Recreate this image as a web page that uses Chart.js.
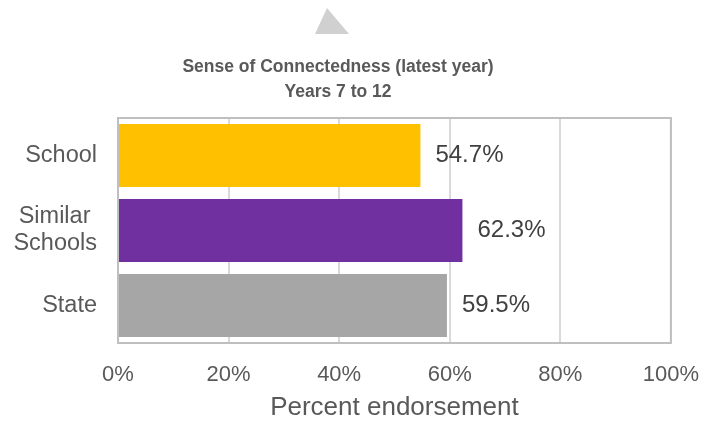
<!DOCTYPE html>
<html>
<head>
<meta charset="utf-8">
<script src="https://cdn.jsdelivr.net/npm/chart.js@4/dist/chart.umd.min.js"></script>
<style>
  html, body { margin: 0; padding: 0; background: #fff; }
  #wrap { width: 718px; height: 423px; }
</style>
</head>
<body>
<div id="wrap"><canvas id="grafico" width="718" height="423"></canvas></div>
<script>
// dados do grafico
const categorias = [['School'], ['Similar ', 'Schools'], ['State']];
const valores = [54.7, 62.3, 59.5];
const cores = ['#FFC000', '#7030A0', '#A6A6A6'];
const ticksX = [0, 20, 40, 60, 80, 100];
const titulo = ['Sense of Connectedness (latest year)', 'Years 7 to 12'];
const tituloEixo = 'Percent endorsement';

const fonte = "'Liberation Sans', Arial, sans-serif";

// borda da area do grafico + triangulo decorativo
const moldura = {
    id: 'moldura',
    beforeDraw(chart) {
        const ctx = chart.ctx;
        ctx.save();
        ctx.fillStyle = '#D0D0D0';
        ctx.beginPath();
        ctx.moveTo(327, 8);
        ctx.lineTo(349, 34);
        ctx.lineTo(315, 34);
        ctx.closePath();
        ctx.fill();
        ctx.restore();
    },
    afterDatasetsDraw(chart) {
        const a = chart.chartArea;
        const ctx = chart.ctx;
        ctx.save();
        ctx.strokeStyle = '#BFBFBF';
        ctx.lineWidth = 2;
        ctx.strokeRect(a.left, a.top, a.right - a.left, a.bottom - a.top);
        ctx.restore();
    }
};

// rotulos de valor ao lado das barras
const rotulos = {
    id: 'rotulos',
    afterDatasetsDraw(chart) {
        const ctx = chart.ctx;
        const meta = chart.getDatasetMeta(0);
        ctx.save();
        ctx.font = '24px ' + fonte;
        ctx.fillStyle = '#404040';
        ctx.textAlign = 'left';
        ctx.textBaseline = 'middle';
        meta.data.forEach((bar, i) => {
            ctx.fillText(valores[i].toFixed(1) + '%', bar.x + 15, bar.y);
        });
        ctx.restore();
    }
};

new Chart(document.getElementById('grafico'), {
    type: 'bar',
    data: {
        labels: categorias,
        datasets: [{
            data: valores,
            backgroundColor: cores,
            barPercentage: 0.84,
            categoryPercentage: 1
        }]
    },
    options: {
        indexAxis: 'y',
        responsive: false,
        animation: false,
        layout: { padding: { top: 0, right: 42, bottom: 0, left: 0 } },
        plugins: {
            legend: { display: false },
            tooltip: { enabled: false },
            title: {
                display: true,
                text: titulo,
                color: '#595959',
                font: { family: fonte, size: 17.5, weight: 'bold', lineHeight: 1.4 },
                padding: { top: 55, bottom: 14 }
            }
        },
        scales: {
            x: {
                min: 0,
                max: 100,
                afterBuildTicks(scale) {
                    scale.ticks = ticksX.map(v => ({ value: v }));
                },
                afterFit(scale) { scale.height = 80; },
                grid: { color: '#D9D9D9', lineWidth: 2, drawTicks: false },
                border: { display: false },
                ticks: {
                    color: '#595959',
                    font: { family: fonte, size: 22 },
                    padding: 19,
                    maxRotation: 0,
                    callback: v => v + '%'
                },
                title: {
                    display: true,
                    text: tituloEixo,
                    color: '#595959',
                    font: { family: fonte, size: 26 },
                    padding: { top: 2, bottom: 0 }
                }
            },
            y: {
                grid: { display: false, drawTicks: false },
                border: { display: false },
                afterFit(scale) { scale.width = 118; },
                ticks: {
                    color: '#595959',
                    font: { family: fonte, size: 23.5, lineHeight: 1.15 },
                    padding: 21
                }
            }
        }
    },
    plugins: [moldura, rotulos]
});
</script>
</body>
</html>
